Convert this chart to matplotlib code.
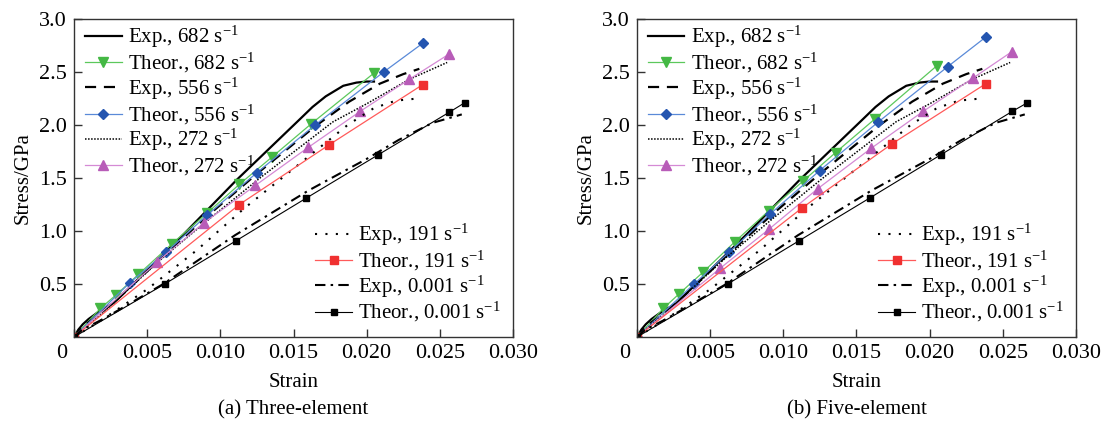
import matplotlib
matplotlib.use('Agg')
import matplotlib.pyplot as plt
import matplotlib.transforms as mtransforms

plt.rcParams['font.family'] = ['Liberation Serif', 'DejaVu Serif']
plt.rcParams['mathtext.fontset'] = 'custom'
plt.rcParams['mathtext.rm'] = 'Liberation Serif'
plt.rcParams['font.size'] = 15

# ---- experimental curves (same in both panels) ----
exp682_x = [0, 0.0003, 0.0006, 0.001, 0.0015, 0.0021, 0.0027, 0.005, 0.0075, 0.0111,
            0.0154, 0.0163, 0.0172, 0.0184, 0.0193, 0.0200, 0.0205]
exp682_y = [0, 0.07, 0.12, 0.17, 0.22, 0.27, 0.32, 0.63, 0.97, 1.48,
            2.05, 2.17, 2.27, 2.37, 2.40, 2.41, 2.41]
exp556_x = [0, 0.0004, 0.0008, 0.0015, 0.0022, 0.003, 0.0063, 0.0091, 0.0125, 0.0165,
            0.0188, 0.0209, 0.0225, 0.0236]
exp556_y = [0, 0.07, 0.12, 0.19, 0.27, 0.36, 0.79, 1.14, 1.54, 1.99,
            2.22, 2.39, 2.48, 2.53]
exp272_x = [0, 0.0005, 0.001, 0.002, 0.003, 0.006, 0.0093, 0.0128, 0.016, 0.0177,
            0.020, 0.0229, 0.0255]
exp272_y = [0, 0.06, 0.12, 0.23, 0.36, 0.74, 1.12, 1.51, 1.85, 2.03,
            2.20, 2.43, 2.59]
exp191_x = [0, 0.002, 0.005, 0.0084, 0.0116, 0.0152, 0.0187, 0.0205, 0.022, 0.0235]
exp191_y = [0, 0.17, 0.45, 0.82, 1.21, 1.61, 2.00, 2.16, 2.23, 2.25]
exp0001_x = [0, 0.0005, 0.001, 0.002, 0.0035, 0.0061, 0.011, 0.016, 0.020, 0.0222,
             0.0245, 0.0265]
exp0001_y = [0, 0.06, 0.10, 0.17, 0.29, 0.50, 0.96, 1.38, 1.68, 1.86, 2.02, 2.10]

# ---- theoretical, three-element (a) ----
a682_x = [0, 0.0018, 0.0029, 0.0044, 0.0067, 0.0091, 0.0113, 0.01355, 0.0162, 0.0205]
a682_y = [0, 0.27, 0.40, 0.59, 0.88, 1.17, 1.44, 1.70, 2.01, 2.49]
a556_x = [0, 0.0038, 0.0063, 0.0091, 0.0125, 0.01648, 0.02116, 0.02382]
a556_y = [0, 0.51, 0.80, 1.15, 1.55, 2.00, 2.50, 2.77]
a272_x = [0, 0.0057, 0.0089, 0.0124, 0.01602, 0.01957, 0.0229, 0.02564]
a272_y = [0, 0.71, 1.08, 1.43, 1.79, 2.13, 2.43, 2.67]
a191_x = [0, 0.0113, 0.0174, 0.02382]
a191_y = [0, 1.25, 1.81, 2.38]
a0001_x = [0, 0.0062, 0.0111, 0.01587, 0.0208, 0.02564, 0.0267]
a0001_y = [0, 0.50, 0.91, 1.31, 1.72, 2.12, 2.21]

# ---- theoretical, five-element (b) ----
b682_x = [0, 0.0018, 0.0029, 0.0045, 0.0067, 0.0090, 0.01134, 0.01357, 0.01628, 0.0205]
b682_y = [0, 0.27, 0.41, 0.61, 0.90, 1.19, 1.47, 1.74, 2.06, 2.56]
b556_x = [0, 0.0039, 0.0063, 0.0091, 0.01248, 0.0165, 0.02123, 0.02384]
b556_y = [0, 0.50, 0.80, 1.16, 1.57, 2.03, 2.55, 2.83]
b272_x = [0, 0.0057, 0.0090, 0.01236, 0.016, 0.01957, 0.02293, 0.0256]
b272_y = [0, 0.65, 1.015, 1.40, 1.78, 2.13, 2.44, 2.69]
b191_x = [0, 0.0113, 0.0174, 0.02384]
b191_y = [0, 1.22, 1.82, 2.39]
b0001_x = [0, 0.0062, 0.0111, 0.01589, 0.02077, 0.02566, 0.02668]
b0001_y = [0, 0.50, 0.91, 1.31, 1.72, 2.13, 2.21]

x_ticks = [0, 0.005, 0.010, 0.015, 0.020, 0.025, 0.030]
x_labels = ['0', '0.005', '0.010', '0.015', '0.020', '0.025', '0.030']
y_ticks = [0.5, 1.0, 1.5, 2.0, 2.5, 3.0]
y_labels = ['0.5', '1.0', '1.5', '2.0', '2.5', '3.0']

S = r'$\mathregular{s^{-1}}$'

fig = plt.figure(figsize=(11.04, 4.26), dpi=100)
ax_a = fig.add_axes([74 / 1104, 89 / 426, 439 / 1104, 318 / 426])
ax_b = fig.add_axes([637 / 1104, 89 / 426, 439 / 1104, 318 / 426])


def draw(ax, th, caption):
    t682, t556, t272, t191, t0001 = th
    h = []
    h += ax.plot(exp682_x, exp682_y, color='black', lw=1.6, label='Exp., 682 ' + S)
    h += ax.plot(t682[0], t682[1], color='#5cc85c', lw=0.9, marker='v', ms=7,
                 mfc='#44b844', mec='#44b844', label='Theor., 682 ' + S)
    h += ax.plot(exp556_x, exp556_y, color='black', lw=1.6, ls=(0, (5, 3.5)),
                 label='Exp., 556 ' + S)
    h += ax.plot(t556[0], t556[1], color='#5a8ad8', lw=0.9, marker='D', ms=5.5,
                 mfc='#2455b0', mec='#2455b0', label='Theor., 556 ' + S)
    h += ax.plot(exp272_x, exp272_y, color='black', lw=1.1, ls=(0, (1, 1)),
                 label='Exp., 272 ' + S)
    h += ax.plot(t272[0], t272[1], color='#d58ad5', lw=0.9, marker='^', ms=7,
                 mfc='#b85cb8', mec='#b85cb8', label='Theor., 272 ' + S)
    h2 = []
    h2 += ax.plot(exp191_x, exp191_y, color='black', lw=1.5, ls=(0, (1, 4)),
                  label='Exp., 191 ' + S)
    h2 += ax.plot(t191[0], t191[1], color='#ff5a5a', lw=0.9, marker='s', ms=5.5,
                  mfc='#f03030', mec='#f03030', label='Theor., 191 ' + S)
    h2 += ax.plot(exp0001_x, exp0001_y, color='black', lw=1.5, ls=(0, (5, 2.5, 1.2, 2.5)),
                  label='Exp., 0.001 ' + S)
    h2 += ax.plot(t0001[0], t0001[1], color='black', lw=0.8, marker='s', ms=5,
                  label='Theor., 0.001 ' + S)

    ax.set_xlim(0, 0.030)
    ax.set_ylim(0, 3.0)
    ax.set_xticks(x_ticks)
    ax.set_xticklabels(x_labels)
    ax.set_yticks(y_ticks)
    ax.set_yticklabels(y_labels)
    ax.tick_params(direction='in', length=6, width=1, color='#333333', labelsize=16)
    ax.tick_params(axis='x', pad=5)
    ax.tick_params(axis='y', pad=5)
    # shift the "0" label to the corner
    lab0 = ax.get_xticklabels()[0]
    lab0.set_transform(lab0.get_transform() +
                       mtransforms.ScaledTranslation(-9 / 72, 0, fig.dpi_scale_trans))
    for sp in ax.spines.values():
        sp.set_color('#333333')
        sp.set_linewidth(1.0)
    ax.set_xlabel('Strain', fontsize=15, labelpad=7)
    ax.set_ylabel('Stress/GPa', fontsize=15, labelpad=5)

    leg1 = ax.legend(handles=h, loc='upper left', frameon=False, fontsize=15,
                     handlelength=1.73, handletextpad=0.3, labelspacing=0.03,
                     borderaxespad=0.35, borderpad=0.2, bbox_to_anchor=(0.0, 1.02))
    ax.add_artist(leg1)
    ax.legend(handles=h2, loc='lower right', frameon=False, fontsize=15,
              handlelength=1.73, handletextpad=0.3, labelspacing=0.03,
              borderaxespad=0.3, borderpad=0.3)
    ax.text(0.5, -0.23, caption, transform=ax.transAxes, ha='center', va='center',
            fontsize=15)


draw(ax_a, [(a682_x, a682_y), (a556_x, a556_y), (a272_x, a272_y),
            (a191_x, a191_y), (a0001_x, a0001_y)], '(a) Three-element')
draw(ax_b, [(b682_x, b682_y), (b556_x, b556_y), (b272_x, b272_y),
            (b191_x, b191_y), (b0001_x, b0001_y)], '(b) Five-element')

fig.savefig('out.png', dpi=100)
